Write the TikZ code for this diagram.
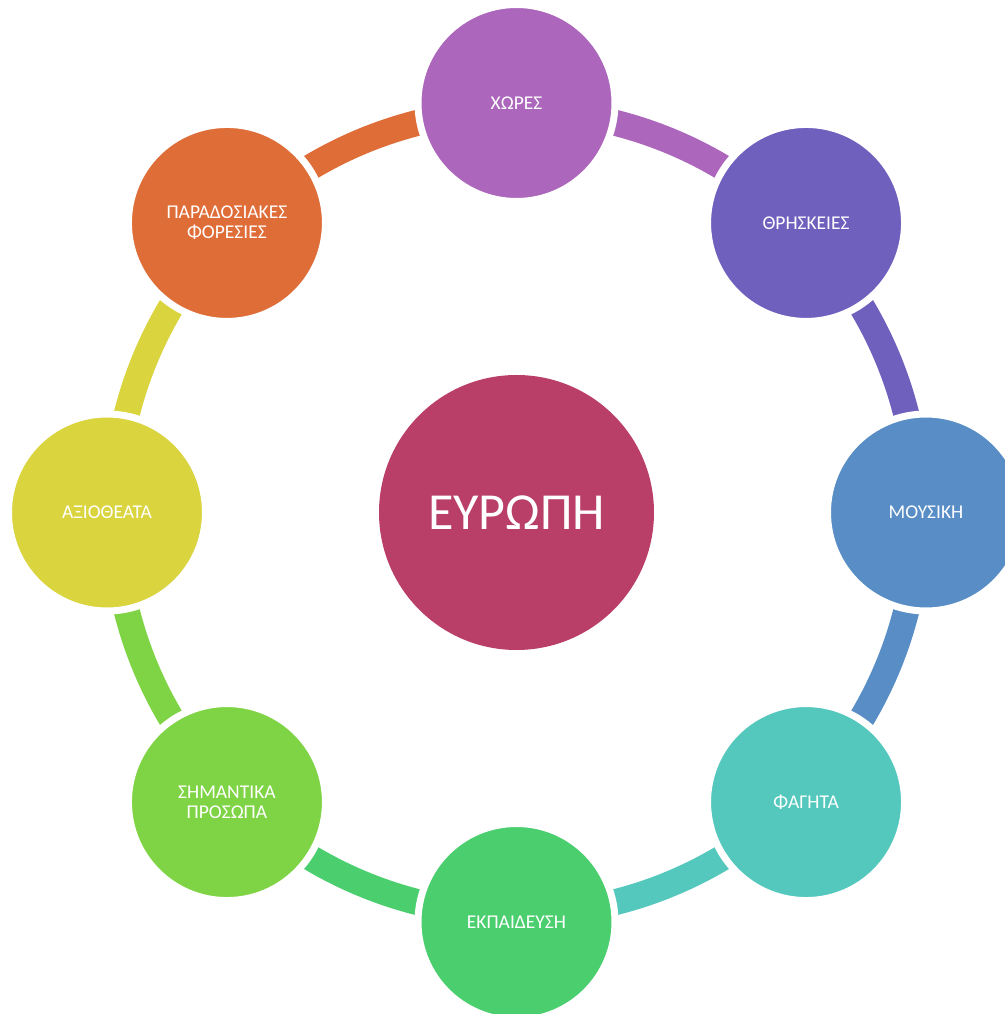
\documentclass[tikz,border=0pt]{standalone}
\usepackage{fontspec}
\setmainfont{Carlito}
\usepackage{tikz}
\usetikzlibrary{positioning}
\usetikzlibrary{backgrounds}

\definecolor{chub}{HTML}{B93E68}
\definecolor{cxwres}{HTML}{AC66BC}
\definecolor{cthrisk}{HTML}{7060BE}
\definecolor{cmousiki}{HTML}{588DC5}
\definecolor{cfagita}{HTML}{54C8BD}
\definecolor{cekpaid}{HTML}{4BCE6E}
\definecolor{cprosopa}{HTML}{7FD446}
\definecolor{caxioth}{HTML}{DAD43E}
\definecolor{cfores}{HTML}{DF6D38}

\begin{document}
\begin{tikzpicture}[x=1pt, y=1pt,
    hubnode/.style={circle, fill=chub, text=white, inner sep=0pt,
      minimum size=275pt, font=\fontsize{52}{56}\selectfont},
    roundnode/.style={circle, draw=white, line width=7pt, text=white,
      inner sep=0pt, minimum size=197pt, align=center,
      font=\fontsize{19.5}{20}\selectfont},
    link/.style={line width=26pt}]
    \useasboundingbox (-516.5,-501.5) rectangle (487.5,512.5);
    \node[hubnode] (europi) at (0,0) {ΕΥΡΩΠΗ};
    \node[roundnode, fill=cxwres] (xwres) at (90:409.5) {ΧΩΡΕΣ};
    \node[roundnode, fill=cthrisk] (thriskeies) at (45:409.5) {ΘΡΗΣΚΕΙΕΣ};
    \node[roundnode, fill=cmousiki] (mousiki) at (0:409.5) {ΜΟΥΣΙΚΗ};
    \node[roundnode, fill=cfagita] (fagita) at (-45:409.5) {ΦΑΓΗΤΑ};
    \node[roundnode, fill=cekpaid] (ekpaideusi) at (-90:409.5) {ΕΚΠΑΙΔΕΥΣΗ};
    \node[roundnode, fill=cprosopa] (prosopa) at (-135:409.5) {ΣΗΜΑΝΤΙΚΑ\\ΠΡΟΣΩΠΑ};
    \node[roundnode, fill=caxioth] (axiotheata) at (180:409.5) {ΑΞΙΟΘΕΑΤΑ};
    \node[roundnode, fill=cfores] (foresies) at (135:409.5) {ΠΑΡΑΔΟΣΙΑΚΕΣ\\ΦΟΡΕΣΙΕΣ};
    \begin{scope}[on background layer]
    \draw[link, draw=cxwres] ([shift={(270:7.5)}]xwres.center) arc[start angle=90, end angle=45, radius=402];
    \draw[link, draw=cthrisk] ([shift={(225:7.5)}]thriskeies.center) arc[start angle=45, end angle=0, radius=402];
    \draw[link, draw=cmousiki] ([shift={(180:7.5)}]mousiki.center) arc[start angle=0, end angle=-45, radius=402];
    \draw[link, draw=cfagita] ([shift={(135:7.5)}]fagita.center) arc[start angle=-45, end angle=-90, radius=402];
    \draw[link, draw=cekpaid] ([shift={(90:7.5)}]ekpaideusi.center) arc[start angle=-90, end angle=-135, radius=402];
    \draw[link, draw=cprosopa] ([shift={(45:7.5)}]prosopa.center) arc[start angle=-135, end angle=-180, radius=402];
    \draw[link, draw=caxioth] ([shift={(0:7.5)}]axiotheata.center) arc[start angle=180, end angle=135, radius=402];
    \draw[link, draw=cfores] ([shift={(-45:7.5)}]foresies.center) arc[start angle=135, end angle=90, radius=402];
    \end{scope}
  \end{tikzpicture}
\end{document}
